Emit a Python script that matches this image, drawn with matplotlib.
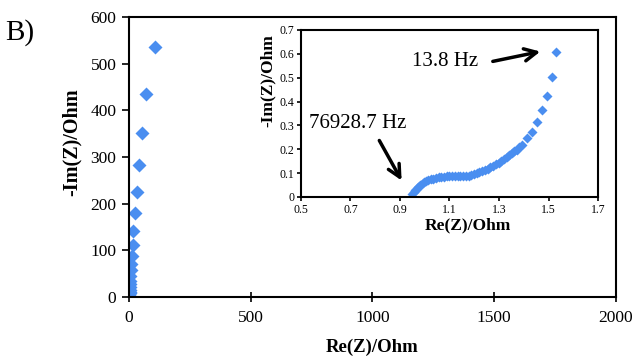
import matplotlib
matplotlib.use("Agg")
import matplotlib.pyplot as plt
from matplotlib.ticker import MultipleLocator, FormatStrFormatter

plt.rcParams['font.family'] = ['Liberation Serif', 'DejaVu Serif']

# high frequency part (shown in the inset)
re_hf = [0.950, 0.955, 0.961, 0.967, 0.974, 0.981, 0.989, 0.997, 1.006, 1.015,
         1.025, 1.035, 1.045, 1.056, 1.067, 1.078, 1.089, 1.100, 1.111, 1.122,
         1.133, 1.144, 1.155, 1.166, 1.177, 1.188, 1.199, 1.210, 1.221, 1.232,
         1.243, 1.254, 1.265, 1.276, 1.287, 1.298, 1.309, 1.320, 1.331, 1.342,
         1.352, 1.362, 1.372, 1.382, 1.392, 1.412, 1.432, 1.452, 1.472, 1.493,
         1.513, 1.530]
im_hf = [0.012, 0.020, 0.028, 0.035, 0.042, 0.049, 0.055, 0.061, 0.066, 0.070,
         0.074, 0.077, 0.080, 0.082, 0.084, 0.085, 0.086, 0.086, 0.086, 0.086,
         0.086, 0.086, 0.087, 0.088, 0.090, 0.092, 0.095, 0.099, 0.103, 0.108,
         0.113, 0.118, 0.124, 0.130, 0.137, 0.144, 0.151, 0.159, 0.167, 0.175,
         0.183, 0.191, 0.199, 0.208, 0.218, 0.246, 0.274, 0.313, 0.365, 0.425,
         0.504, 0.606]

# low frequency tail (main plot only)
re_lf = [1.56, 1.60, 1.65, 1.72, 1.80, 1.92, 2.06, 2.25, 2.5, 2.8, 3.2, 3.7,
         4.3, 5.2, 6.5, 8.5, 12, 15, 18, 25, 31, 42, 52, 68, 106]
im_lf = [0.8, 1.1, 1.6, 2.3, 3.2, 4.5, 6.2, 8.5, 11.5, 15.5, 20.5, 27, 35,
         45, 57, 71, 88, 111, 142, 179, 226, 283, 352, 434, 536]

inset_xticks = [0.5, 0.7, 0.9, 1.1, 1.3, 1.5, 1.7]
inset_yticks = [0, 0.1, 0.2, 0.3, 0.4, 0.5, 0.6, 0.7]

blue = '#4a8ef0'

fig = plt.figure(figsize=(6.37, 3.6), dpi=100)

# main plot
ax = fig.add_axes([0.2025, 0.175, 0.7645, 0.778])
ax.plot(re_hf + re_lf, im_hf + im_lf, 'D', color=blue, ms=7.5, mec='none')
ax.set_xlim(0, 2000)
ax.set_ylim(0, 600)
ax.xaxis.set_major_locator(MultipleLocator(500))
ax.yaxis.set_major_locator(MultipleLocator(100))
ax.tick_params(axis='y', direction='out', length=5, width=1.2, labelsize=12.5, pad=4)
ax.tick_params(axis='x', direction='inout', length=7, width=1.2, labelsize=12.5, pad=6)
for s in ax.spines.values():
    s.set_linewidth(1.5)
ax.set_xlabel('Re(Z)/Ohm', fontsize=13.5, fontweight='bold', va='center')
ax.set_ylabel('-Im(Z)/Ohm', fontsize=14.5, fontweight='bold', va='center')
ax.xaxis.set_label_coords(0.5, -0.179)
ax.yaxis.set_label_coords(-0.117, 0.553)
fig.text(0.008, 0.911, 'B)', fontsize=21, va='center')

# inset
ins = fig.add_axes([0.4725, 0.4528, 0.4663, 0.4639])
ins.plot(re_hf, im_hf, 'D', color=blue, ms=5.5, mec='none')
ins.set_xlim(0.5, 1.7)
ins.set_ylim(0, 0.7)
ins.set_xticks(inset_xticks)
ins.set_yticks(inset_yticks)
ins.xaxis.set_major_formatter(FormatStrFormatter('%g'))
ins.yaxis.set_major_formatter(FormatStrFormatter('%g'))
ins.tick_params(direction='out', length=3, width=1.2, labelsize=8.5, pad=2)
for s in ins.spines.values():
    s.set_linewidth(1.5)
ins.set_xlabel('Re(Z)/Ohm', fontsize=12.5, fontweight='bold', va='center')
ins.set_ylabel('-Im(Z)/Ohm', fontsize=12.5, fontweight='bold', va='center')
ins.xaxis.set_label_coords(0.562, -0.168)
ins.yaxis.set_label_coords(-0.111, 0.70)

arrow = dict(arrowstyle='->', lw=2.5, color='black', mutation_scale=22)
ins.text(1.082, 0.57, '13.8 Hz', fontsize=15, ha='center', va='center')
ins.annotate('', xy=(1.478, 0.612), xytext=(1.264, 0.566), arrowprops=arrow)
ins.text(0.73, 0.31, '76928.7 Hz', fontsize=15, ha='center', va='center')
ins.annotate('', xy=(0.912, 0.059), xytext=(0.811, 0.247), arrowprops=arrow)

fig.savefig('out.png', dpi=100)
